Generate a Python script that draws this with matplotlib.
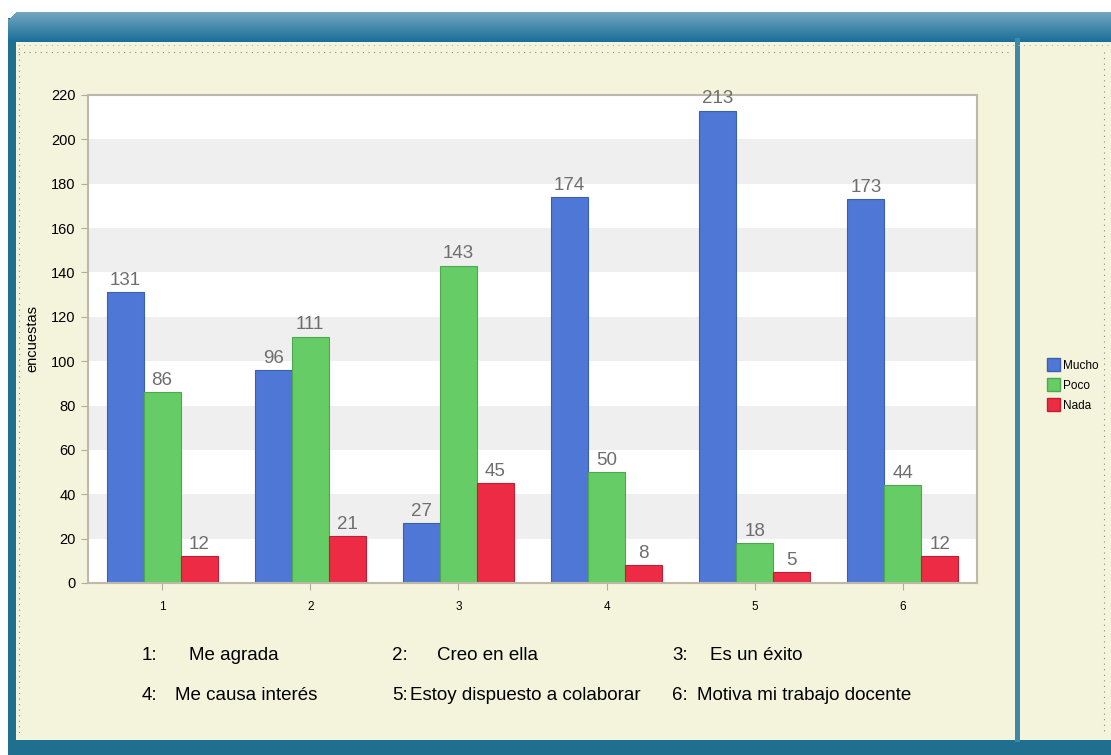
import matplotlib.pyplot as plt
import matplotlib.patches as mpatches
import matplotlib.lines as mlines
import numpy as np

# -------------------------------------------------------------------------------------------------
# Data
# -------------------------------------------------------------------------------------------------
items = [1, 2, 3, 4, 5, 6]
mucho = [131, 96, 27, 174, 213, 173]
poco = [86, 111, 143, 50, 18, 44]
nada = [12, 21, 45, 8, 5, 12]
series_names = ["Mucho", "Poco", "Nada"]
item_labels = ["Me agrada", "Creo en ella", "Es un éxito",
               "Me causa interés", "Estoy dispuesto a colaborar", "Motiva mi trabajo docente"]

colors = ["#4F78D6", "#66CC66", "#EE2B44"]
edges = ["#3A5FB0", "#4FA84F", "#C01F33"]

plt.rcParams['font.family'] = ['Liberation Sans', 'DejaVu Sans']

W, H = 1111, 755
fig = plt.figure(figsize=(W / 100, H / 100), dpi=100)
fig.patch.set_facecolor("white")


def px(x0, y0, w, h, **kw):
    # rectangle in pixel coords (top-left origin), drawn behind the axes
    r = mpatches.Rectangle((x0 / W, 1 - (y0 + h) / H), w / W, h / H, transform=fig.transFigure,
                           zorder=-5, **kw)
    fig.patches.append(r)
    return r


def dotline(xs, ys, color="#8A8A7A"):
    l = mlines.Line2D([v / W for v in xs], [1 - v / H for v in ys], transform=fig.transFigure,
                      color=color, lw=0.8, ls=(0, (1, 4)), zorder=-4)
    fig.lines.append(l)


# -------------------------------------------------------------------------------------------------
# Frame decoration (blue header, cream panel)
# -------------------------------------------------------------------------------------------------
px(8, 18, W - 8, 737, facecolor="#1F6F8F", edgecolor="none")
grad = np.linspace(0, 1, 30)
for i, g in enumerate(grad):
    c = (0.45 - 0.35 * g, 0.65 - 0.22 * g, 0.75 - 0.15 * g)
    x0 = 16 - min(i, 6) if i < 7 else 8
    px(x0, 12 + i, W - x0, 1.05, facecolor=c, edgecolor="none")
px(16, 42, W - 16, 698, facecolor="#F4F4DC", edgecolor="none")
px(1015, 38, 5, 704, facecolor="#3F88A8", edgecolor="none")
px(1020, 42, W - 1020, 698, facecolor="#F4F4DC", edgecolor="none")
dotline([18, W], [45, 45], color="#B8B8A0")
dotline([18, 1012], [52, 52])
dotline([19, 19], [48, 735])
dotline([1104, 1104], [52, 735])

# -------------------------------------------------------------------------------------------------
# Bar chart
# -------------------------------------------------------------------------------------------------
ax = fig.add_axes([88 / W, 1 - 583 / H, (977 - 88) / W, (583 - 95) / H])
ax.set_facecolor("white")
for lo in range(20, 220, 40):
    ax.axhspan(lo, lo + 20, color="#EFEFEF", zorder=0, lw=0)

x = np.array(items)
width = 0.25
for k, vals in enumerate([mucho, poco, nada]):
    pos = x + (k - 1) * width
    ax.bar(pos, vals, width, color=colors[k], edgecolor=edges[k], linewidth=0.8, zorder=2,
           label=series_names[k])
    for p, v in zip(pos, vals):
        ax.text(p, v + 1.5, str(v), ha="center", va="bottom", fontsize=13.5, color="#6E6E6E",
                zorder=3, clip_on=False)

ax.set_xlim(0.5, 6.5)
ax.set_ylim(0, 220)
ax.set_yticks(range(0, 221, 20))
ax.set_xticks(items)
ax.tick_params(axis="y", labelsize=10.5, length=5, color="#B0ABA0", pad=4)
ax.tick_params(axis="x", labelsize=8.5, length=5, color="#B0ABA0", pad=8)
for s in ax.spines.values():
    s.set_color("#BDB8A8")
    s.set_linewidth(1.5)
ax.set_ylabel("encuestas", fontsize=10.5, labelpad=8)

# legend
handles = [mpatches.Patch(facecolor=colors[k], edgecolor=edges[k], label=series_names[k]) for k in range(3)]
fig.legend(handles=handles, loc="center left", bbox_to_anchor=(1036 / W, 1 - 385 / H), frameon=False,
           fontsize=8.5, handlelength=1.1, handleheight=1.3, handletextpad=0.3, labelspacing=0.55)

# item key below chart
key_x = [(142, 189), (392, 437), (672, 710), (142, 175), (392, 410), (672, 697)]
key_y = [655, 655, 655, 695, 695, 695]
for i, lab in enumerate(item_labels):
    fig.text(key_x[i][0] / W, 1 - key_y[i] / H, "%d:" % items[i], fontsize=13.5, va="center", ha="left")
    fig.text(key_x[i][1] / W, 1 - key_y[i] / H, lab, fontsize=13.5, va="center", ha="left")

fig.savefig("out.png", dpi=100)
